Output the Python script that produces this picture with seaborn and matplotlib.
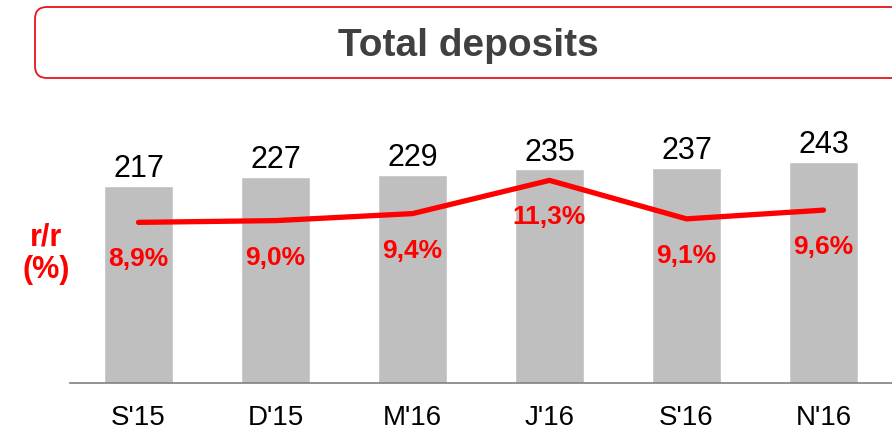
import numpy as np
import pandas as pd
import seaborn as sns
import matplotlib.pyplot as plt
from matplotlib.patches import FancyBboxPatch
from matplotlib.transforms import IdentityTransform

# Data
periods = ["S'15", "D'15", "M'16", "J'16", "S'16", "N'16"]
deposits = [217, 227, 229, 235, 237, 243]
yoy = [8.9, 9.0, 9.4, 11.3, 9.1, 9.6]
yoy_labels = ["8,9%", "9,0%", "9,4%", "11,3%", "9,1%", "9,6%"]

sns.set_theme(style="white")
plt.rcParams['font.family'] = ['Liberation Sans', 'DejaVu Sans']

df = pd.DataFrame({'period': periods, 'deposits': deposits})

fig = plt.figure(figsize=(8.92, 4.31), dpi=100)
ax = fig.add_axes([70 / 892, 1 - 384 / 431, 1 - 70 / 892, 284 / 431])

sns.barplot(data=df, x='period', y='deposits', color='#BFBFBF', width=0.5,
            saturation=1, ax=ax)
ax.set_xlim(-0.5, 5.5)
ax.set_ylim(0, 312.4)
ax.set_xlabel('')
ax.set_ylabel('')
ax.set_yticks([])
for s in ['top', 'right', 'left']:
    ax.spines[s].set_visible(False)
ax.spines['bottom'].set_color('#808080')
ax.spines['bottom'].set_linewidth(1.2)
ax.tick_params(axis='x', length=0, pad=15, labelsize=20, labelcolor='black')

# value labels above the bars
for i, v in enumerate(deposits):
    ax.annotate(str(v), (i, v), xytext=(0, 2), textcoords='offset points',
                ha='center', va='bottom', fontsize=22, color='black')

# year-on-year line on a second axis
ax2 = ax.twinx()
sns.lineplot(x=np.arange(len(yoy)), y=yoy, color='#FF0000', linewidth=3.8,
             solid_capstyle='round', ax=ax2)
ax2.set_ylim(-0.28, 15.95)
ax2.set_yticks([])
ax2.set_ylabel('')
for s in ax2.spines.values():
    s.set_visible(False)
for i, (v, lab) in enumerate(zip(yoy, yoy_labels)):
    ax2.annotate(lab, (i, v), xytext=(0, -26), textcoords='offset points',
                 ha='center', va='center', fontsize=19, fontweight='bold',
                 color='#FF0000')

fig.text(46 / 892, 1 - 254 / 431, "r/r\n(%)", ha='center', va='center',
         fontsize=22, fontweight='bold', color='#FF0000', linespacing=1.1)

# title box
box = FancyBboxPatch((35, 431 - 79), 880, 71,
                     boxstyle="round,pad=0,rounding_size=12",
                     transform=IdentityTransform(), facecolor='white',
                     edgecolor='#E8141B', linewidth=1.3)
fig.add_artist(box)
fig.text(468 / 892, 1 - 46 / 431, "Total deposits", ha='center', va='center',
         fontsize=28, fontweight='bold', color='#404040')

fig.savefig('out.png', dpi=100)
